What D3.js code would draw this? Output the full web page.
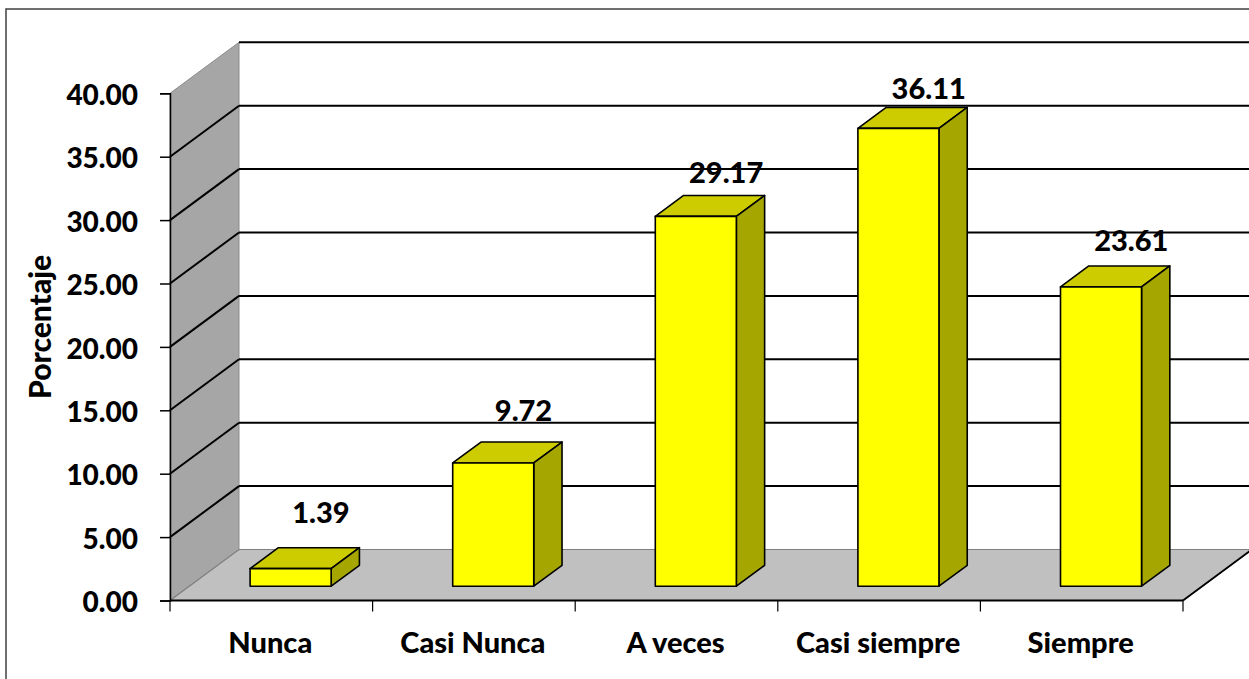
<!DOCTYPE html>
<html>
<head>
<meta charset="utf-8">
<script src="https://cdn.jsdelivr.net/npm/d3@7"></script>
<style>
  html, body { margin: 0; padding: 0; background: #fff; }
  svg { display: block; }
  text { font-family: Lato, "Open Sans", "Liberation Sans", sans-serif; font-weight: 900; fill: #000; }
</style>
</head>
<body>
<svg id="chart" width="1249" height="679"></svg>
<script>
// Response categories and their percentages
const categories = ["Nunca", "Casi Nunca", "A veces", "Casi siempre", "Siempre"];
const values = [1.39, 9.72, 29.17, 36.11, 23.61];
const yTicks = [0, 5, 10, 15, 20, 25, 30, 35, 40];
const yTitle = "Porcentaje";

const svg = d3.select("#chart");
const W = 1249, H = 679;

// Plot frame (front plane) and oblique depth offset
const x0 = 170, x1 = 1183;
const depthX = 69, depthY = -51;
const barZ0 = 0.28, barZ1 = 0.69;

const y = d3.scaleLinear().domain([0, 40]).range([600.5, 93.3]);
const cat = d3.scaleBand().domain(categories).range([x0, x1]).padding(0);
const xBar = d3.scaleBand().domain(categories).range([x0, x1]).paddingInner(0.6).paddingOuter(0.3);
const labelY = d3.scaleLinear().domain([0, 40]).range([540, 51]);

// project a (x, value, depth) point onto the page
const P = (x, v, z) => [x + depthX * z, y(v) + depthY * z];
const line = d3.line();

// outer chart border
svg.append("rect").attr("x", 6).attr("y", 9).attr("width", W + 10).attr("height", H + 10)
  .attr("fill", "none").attr("stroke", "#404040").attr("stroke-width", 1.5);

// left side wall
svg.append("path")
  .attr("d", line([P(x0, 0, 0), P(x0, 40, 0), P(x0, 40, 1), P(x0, 0, 1)]) + "Z")
  .attr("fill", "#a6a6a6").attr("stroke", "#8c8c8c").attr("stroke-width", 1);

// floor
svg.append("path")
  .attr("d", line([P(x0, 0, 0), P(x1, 0, 0), P(x1, 0, 1), P(x0, 0, 1)]) + "Z")
  .attr("fill", "#c0c0c0").attr("stroke", "#7f7f7f").attr("stroke-width", 1.2);
// right floor edge
svg.append("path").attr("d", line([P(x1, 0, 0), P(x1, 0, 1)]))
  .attr("stroke", "#000").attr("stroke-width", 1.8).attr("fill", "none");

// gridlines: back wall and side wall
const grid = svg.append("g");
yTicks.filter(t => t > 0).forEach(t => {
  grid.append("path").attr("d", line([P(x0, t, 1), P(x1, t, 1)]))
    .attr("stroke", "#000").attr("stroke-width", 2).attr("fill", "none");
  if (t < 40) {
    grid.append("path").attr("d", line([P(x0, t, 0), P(x0, t, 1)]))
      .attr("stroke", "#000").attr("stroke-width", 2).attr("fill", "none");
  }
});

// 3D bars
const bars = svg.append("g");
categories.forEach((c, i) => {
  const v = values[i];
  const bx0 = xBar(c), bx1 = xBar(c) + xBar.bandwidth();
  const g = bars.append("g").attr("stroke", "#000").attr("stroke-width", 1.6).attr("stroke-linejoin", "round");
  // top
  g.append("path").attr("d", line([P(bx0, v, barZ0), P(bx1, v, barZ0), P(bx1, v, barZ1), P(bx0, v, barZ1)]) + "Z")
    .attr("fill", "#cccc00");
  // right side
  g.append("path").attr("d", line([P(bx1, 0, barZ0), P(bx1, v, barZ0), P(bx1, v, barZ1), P(bx1, 0, barZ1)]) + "Z")
    .attr("fill", "#a6a600");
  // front
  g.append("path").attr("d", line([P(bx0, 0, barZ0), P(bx1, 0, barZ0), P(bx1, v, barZ0), P(bx0, v, barZ0)]) + "Z")
    .attr("fill", "#ffff00");
});

// value labels
svg.append("g").selectAll("text").data(values).join("text")
  .attr("x", (d, i) => xBar(categories[i]) + xBar.bandwidth() / 2 + depthX * barZ1 + 2)
  .attr("y", d => labelY(d))
  .attr("text-anchor", "middle")
  .style("font-size", "29px")
  .text(d => d.toFixed(2));

// y axis
const yAxis = d3.axisLeft(y).tickValues(yTicks).tickFormat(d3.format(".2f")).tickSize(10).tickPadding(22);
const ya = svg.append("g").attr("transform", `translate(${x0},0)`).call(yAxis);
ya.select(".domain").attr("stroke", "#000").attr("stroke-width", 1.5);
ya.selectAll(".tick line").attr("stroke", "#000").attr("stroke-width", 1.5);
ya.selectAll(".tick text").style("font-size", "28px").attr("font-family", null).attr("dy", "0.4em");

// x axis: front floor edge, boundary ticks, category labels
svg.append("path").attr("d", line([P(x0, 0, 0), P(x1, 0, 0)]))
  .attr("stroke", "#000").attr("stroke-width", 2).attr("fill", "none");
const bounds = categories.map(c => cat(c)).concat([x1]);
svg.append("g").selectAll("line").data(bounds).join("line")
  .attr("x1", d => d).attr("x2", d => d)
  .attr("y1", y(0)).attr("y2", y(0) + 11)
  .attr("stroke", "#000").attr("stroke-width", 1.2);
svg.append("g").selectAll("text").data(categories).join("text")
  .attr("x", d => cat(d) + cat.bandwidth() / 2 - 1)
  .attr("y", 653)
  .attr("text-anchor", "middle")
  .style("font-size", "29px")
  .text(d => d);

// y axis title
svg.append("text")
  .attr("transform", `translate(51,${(y(0) + y(40)) / 2 - 20}) rotate(-90)`)
  .attr("text-anchor", "middle")
  .style("font-size", "30px")
  .text(yTitle);
</script>
</body>
</html>
